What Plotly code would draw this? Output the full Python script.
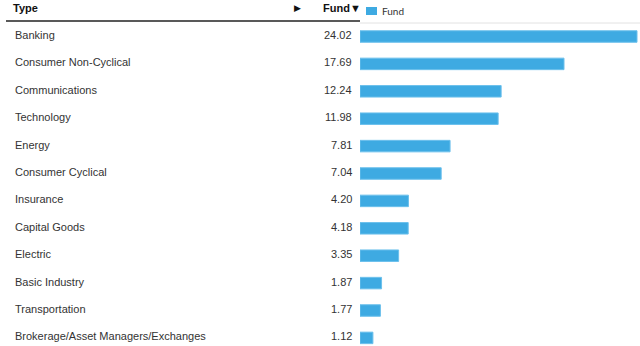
import plotly.graph_objects as go

# Sector weights (%) of the fund
categories = [
    "Banking", "Consumer Non-Cyclical", "Communications", "Technology",
    "Energy", "Consumer Cyclical", "Insurance", "Capital Goods",
    "Electric", "Basic Industry", "Transportation",
    "Brokerage/Asset Managers/Exchanges",
]
fund_values = [24.02, 17.69, 12.24, 11.98, 7.81, 7.04, 4.20, 4.18, 3.35, 1.87, 1.77, 1.12]
value_labels = [f"{v:.2f}" for v in fund_values]

W, H = 640, 346
BAR_COLOR = "#3eaae2"
TEXT_COLOR = "#333333"
FONT = "Liberation Sans, Arial, sans-serif"
LEGEND_FONT = "Lato, Open Sans, sans-serif"

# Row geometry (pixels): first row centre and row pitch
ROW0, PITCH = 36.5, 27.4
y_top = -ROW0 / PITCH
y_bot = (H - ROW0) / PITCH

X0_PX = 360
x_max = max(fund_values) * (W - X0_PX) / (637 - X0_PX)

fig = go.Figure()
fig.add_trace(go.Bar(
    x=fund_values,
    y=list(range(len(categories))),
    orientation="h",
    width=0.42,
    marker=dict(color=BAR_COLOR, line=dict(color="#6cc0ec", width=1)),
    name="Fund",
    hoverinfo="skip",
    showlegend=False,
))

annotations = []
for i, (cat, lab) in enumerate(zip(categories, value_labels)):
    annotations.append(dict(
        x=13 / W, y=i, xref="paper", yref="y", text=cat, showarrow=False,
        xanchor="left", yanchor="middle", yshift=1.5,
        font=dict(family=FONT, size=11, color=TEXT_COLOR),
    ))
    annotations.append(dict(
        x=354 / W, y=i, xref="paper", yref="y", text=lab, showarrow=False,
        xanchor="right", yanchor="middle", yshift=1.5,
        font=dict(family=FONT, size=11, color=TEXT_COLOR),
    ))

# Header texts
hdr_y = 1 - 8 / H
annotations += [
    dict(x=11 / W, y=hdr_y, xref="paper", yref="paper", text="<b>Type</b>",
         showarrow=False, xanchor="left", yanchor="middle",
         font=dict(family=FONT, size=11, color="#111111")),
    dict(x=297 / W, y=hdr_y, xref="paper", yref="paper", text="▶",
         showarrow=False, xanchor="center", yanchor="middle",
         font=dict(family="DejaVu Sans", size=9, color="#111111")),
    dict(x=363 / W, y=hdr_y, xref="paper", yref="paper", text="<b>Fund▼</b>",
         showarrow=False, xanchor="right", yanchor="middle",
         font=dict(family=FONT, size=11, color="#111111")),
    dict(x=380 / W, y=1 - 11 / H, xref="paper", yref="paper", text="Fund",
         showarrow=False, xanchor="left", yanchor="middle",
         font=dict(family=LEGEND_FONT, size=10, color="#333333")),
]

shapes = [
    # dark rule under the header
    dict(type="line", xref="paper", yref="paper", x0=6 / W, x1=360 / W,
         y0=1 - 21 / H, y1=1 - 21 / H, line=dict(color="#222222", width=1.5)),
    # light rule above the bars
    dict(type="line", xref="paper", yref="paper", x0=360 / W, x1=1,
         y0=1 - 23 / H, y1=1 - 23 / H, line=dict(color="#e2e2e2", width=1)),
    # legend swatch
    dict(type="rect", xref="paper", yref="paper", x0=366 / W, x1=377 / W,
         y0=1 - 15 / H, y1=1 - 7 / H, fillcolor=BAR_COLOR, line=dict(width=0)),
]

fig.update_layout(
    width=W, height=H,
    margin=dict(l=0, r=0, t=0, b=0),
    paper_bgcolor="white", plot_bgcolor="white",
    xaxis=dict(domain=[X0_PX / W, 1], range=[0, x_max], visible=False, fixedrange=True),
    yaxis=dict(range=[y_bot, y_top], visible=False, fixedrange=True),
    annotations=annotations,
    shapes=shapes,
    showlegend=False,
)

fig.write_html("out.html")
